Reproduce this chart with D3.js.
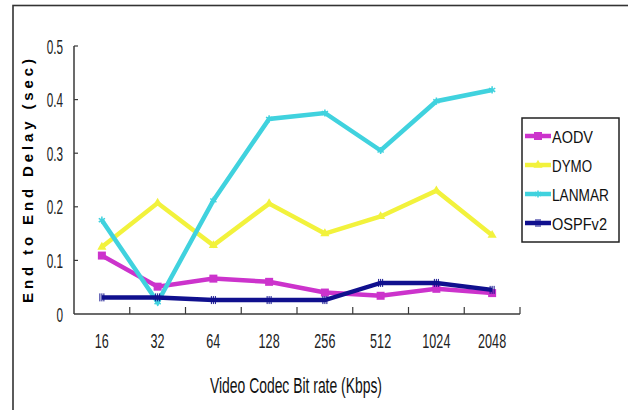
<!DOCTYPE html>
<html><head><meta charset="utf-8">
<script src="https://cdn.jsdelivr.net/npm/d3@7"></script>
<style>body{margin:0;background:#fff}svg{display:block}</style>
</head><body>
<svg id="c" width="628" height="410"></svg>
<script>
const categories = ["16","32","64","128","256","512","1024","2048"];
const seriesNames = ["AODV","DYMO","LANMAR","OSPFv2"];
const aodv   = [0.109,0.051,0.066,0.060,0.040,0.034,0.047,0.039];
const dymo   = [0.125,0.207,0.128,0.206,0.150,0.182,0.230,0.147];
const lanmar = [0.175,0.022,0.212,0.364,0.375,0.305,0.397,0.418];
const ospfv2 = [0.031,0.031,0.026,0.026,0.026,0.058,0.058,0.045];
const yTicks = [0,0.1,0.2,0.3,0.4,0.5];
const yTickLabels = ["0","0.1","0.2","0.3","0.4","0.5"];
const colors = ["#cc33cc","#f2f23c","#40d2de","#10108e"];
const markers = ["square","triangle","star","bars"];
const values = [aodv,dymo,lanmar,ospfv2];

const svg = d3.select("#c");
const FONT = "'Liberation Sans', Arial, sans-serif";
const x = d3.scaleBand().domain(categories).range([74,520]).padding(0);
const y = d3.scaleLinear().domain([0,0.5]).range([314,46]);
const cx = d => x(d) + x.bandwidth()/2;

function squeeze(sel, f){ sel.each(function(){ const L=this.getComputedTextLength(); d3.select(this).attr("textLength",L*f).attr("lengthAdjust","spacingAndGlyphs"); }); }

// outer frame
svg.append("rect").attr("x",13).attr("y",5.5).attr("width",640).attr("height",420)
  .attr("fill","none").attr("stroke","#333").attr("stroke-width",1.6);

// axes
const axisColor = "#3a3a3a";
svg.append("line").attr("x1",74).attr("x2",520).attr("y1",y(0)).attr("y2",y(0)).attr("stroke",axisColor).attr("stroke-width",1.5);
svg.append("line").attr("x1",74).attr("x2",74).attr("y1",y(0)).attr("y2",y(0.5)).attr("stroke",axisColor).attr("stroke-width",1.5);
svg.append("g").selectAll("line").data(yTicks.slice(1)).join("line")
  .attr("x1",74).attr("x2",78).attr("y1",d=>y(d)).attr("y2",d=>y(d)).attr("stroke",axisColor).attr("stroke-width",1.2);
svg.append("g").selectAll("line").data(categories).join("line")
  .attr("x1",d=>x(d)+x.bandwidth()).attr("x2",d=>x(d)+x.bandwidth())
  .attr("y1",y(0)).attr("y2",y(0)-7).attr("stroke",axisColor).attr("stroke-width",1.2);

// y tick labels
const yl = svg.append("g").selectAll("text").data(yTicks).join("text")
  .attr("x",63).attr("y",(d)=>y(d)+7.5).attr("text-anchor","end")
  .attr("font-family",FONT).attr("font-size",21).attr("fill","#222")
  .text((d,i)=>yTickLabels[i]);
squeeze(yl,0.56);

// x tick labels
const xl = svg.append("g").selectAll("text").data(categories).join("text")
  .attr("x",d=>cx(d)).attr("y",348).attr("text-anchor","middle")
  .attr("font-family",FONT).attr("font-size",21).attr("fill","#222")
  .text(d=>d);
squeeze(xl,0.6);

// axis titles
svg.append("text").attr("x",296).attr("y",393).attr("text-anchor","middle")
  .attr("font-family",FONT).attr("font-size",22).attr("fill","#111")
  .attr("textLength",172).attr("lengthAdjust","spacingAndGlyphs")
  .text("Video Codec Bit rate (Kbps)");
svg.append("text").attr("transform","translate(32.5,181) rotate(-90)").attr("text-anchor","middle")
  .attr("font-family",FONT).attr("font-size",15).attr("font-weight","bold").attr("fill","#000")
  .attr("textLength",244).attr("lengthAdjust","spacing")
  .text("End to End Delay (sec)");

function drawMarker(g, type, color, px, py){
  if(type==="square"){
    g.append("rect").attr("x",px-4).attr("y",py-4).attr("width",8).attr("height",8).attr("fill",color);
  } else if(type==="triangle"){
    g.append("path").attr("d",d3.symbol(d3.symbolTriangle,36)()).attr("transform",`translate(${px},${py})`).attr("fill",color);
  } else if(type==="star"){
    g.append("path").attr("d",d3.symbol(d3.symbolAsterisk,36)()).attr("transform",`translate(${px},${py})`).attr("stroke",color).attr("stroke-width",1.5).attr("fill","none");
  } else {
    [-2,0,2].forEach(o=>g.append("line").attr("x1",px+o).attr("x2",px+o).attr("y1",py-4).attr("y2",py+4).attr("stroke",color).attr("stroke-width",1));
  }
}

const line = d3.line().x((d,i)=>cx(categories[i])).y(d=>y(d));
values.forEach((vals,k)=>{
  const g = svg.append("g");
  g.append("path").datum(vals).attr("d",line).attr("fill","none")
    .attr("stroke",colors[k]).attr("stroke-width",4.5).attr("stroke-linejoin","miter");
  vals.forEach((v,i)=>drawMarker(g,markers[k],colors[k],cx(categories[i]),y(v)));
});

// legend
const lg = svg.append("g");
lg.append("rect").attr("x",522).attr("y",118).attr("width",97).attr("height",124)
  .attr("fill","#fff").attr("stroke","#222").attr("stroke-width",1.5);
const legY = [136,165,194,223];
const legW = [41,40,57,55];
seriesNames.forEach((n,k)=>{
  lg.append("line").attr("x1",525).attr("x2",551).attr("y1",legY[k]).attr("y2",legY[k])
    .attr("stroke",colors[k]).attr("stroke-width",4.5);
  drawMarker(lg,markers[k],colors[k],538,legY[k]);
  lg.append("text").attr("x",552).attr("y",legY[k]+6.5).attr("font-family",FONT).attr("font-size",17)
    .attr("fill","#111").attr("textLength",legW[k]).attr("lengthAdjust","spacingAndGlyphs").text(n);
});
</script>
</body></html>
